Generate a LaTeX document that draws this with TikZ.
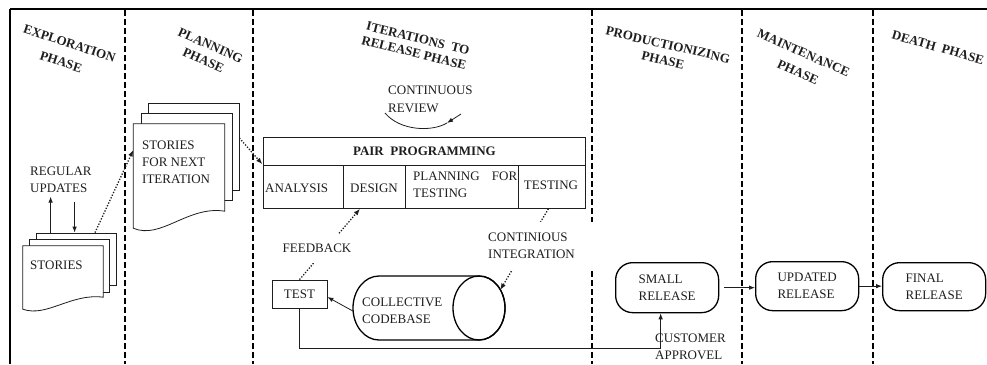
\documentclass[tikz,border=0pt]{standalone}
\usepackage{fontspec}
\setmainfont{Liberation Serif}
\usetikzlibrary{calc,arrows.meta}

\definecolor{ink}{RGB}{30,30,30}

\tikzset{
  x=1pt, y=-1pt,
  every node/.style={font=\fontsize{13}{17}\selectfont, text=ink, inner sep=0pt},
  phase/.style={font=\bfseries\fontsize{13}{15}\selectfont, anchor=center},
  divider/.style={draw=black, line width=1.5pt, dash pattern=on 6pt off 3pt},
  conn/.style={draw=ink, line width=0.8pt},
  tip/.style={-{Latex[length=6pt,width=4.5pt]}},
  dotconn/.style={draw=ink, line width=1.3pt, dash pattern=on 1.3pt off 1.6pt,
    -{Latex[length=6.5pt,width=5pt]}},
  page/.style={draw=ink, line width=0.8pt, fill=white},
  pagenode/.style={minimum width=#1, draw=none},
  cell/.style={draw=ink, line width=0.8pt, anchor=north west},
  release/.style={draw=black, line width=1.3pt, rounded corners=17pt,
    anchor=north west, minimum width=103pt, align=left},
  txt/.style={align=left, anchor=west},
  gapbox/.style={fill=white},
}

% document outline with a wavy lower edge, drawn round a named node
\newcommand\docoutline[2]{%
  \draw[page] (#1.north west) -- (#1.north east) -- (#1.south east)
    .. controls ($(#1.south west)!0.6!(#1.south east)+(0,-0.35*#2)$)
           and ($(#1.south west)!0.3!(#1.south east)+(0,1.7*#2)$)
    .. ($(#1.south west)+(0,#2)$) -- cycle;}

\begin{document}
\begin{tikzpicture}
\useasboundingbox (0,0) rectangle (987,364);

% frame and phase dividers
\draw[black, line width=2pt] (10,9) -- (987,9);
\draw[black, line width=1.5pt] (10,9) -- (10,364);
\foreach \x in {125,253,592,742,873}
  \draw[divider] (\x,10) -- (\x,364);

% phase titles
\node[phase, rotate=-18] (ph1a) at (69.5,43.5) {EXPLORATION};
\node[phase, rotate=-18] (ph1b) at (61,62) {PHASE};
\node[phase, rotate=-24] (ph2a) at (210.5,45.5) {PLANNING};
\node[phase, rotate=-24] (ph2b) at (203.5,60) {PHASE};
\node[phase, rotate=-14] (ph3a) at (418,38.5) {ITERATIONS\ \ TO};
\node[phase, rotate=-14] (ph3b) at (414,53) {RELEASE PHASE};
\node[phase, rotate=-13] (ph4a) at (668,45) {PRODUCTIONIZING};
\node[phase, rotate=-13] (ph4b) at (663,60) {PHASE};
\node[phase, rotate=-24] (ph5a) at (803.5,53) {MAINTENANCE};
\node[phase, rotate=-24] (ph5b) at (798,72) {PHASE};
\node[phase, rotate=-16] (ph6) at (938,47.5) {DEATH\ \ PHASE};

% exploration: stack of stories
\node[page, minimum width=80pt, minimum height=52pt] (sb) at (76,259) {};
\node[page, minimum width=80pt, minimum height=53pt] (sm) at (69.5,265.5) {};
\node[pagenode=80pt, minimum height=51pt] (sf) at (63,271.5) {};
\docoutline{sf}{12}
\node[txt] (stories) at (30,265) {STORIES};

\node[txt] (updates) at (30,179.5) {REGULAR\\UPDATES};
\draw[conn, tip] ([xshift=15pt]sb.north west) -- ++(0,-36);
\draw[conn, tip] ($(sb.north west)+(39,-31)$) -- ([xshift=39pt]sb.north west);

% planning: stories for next iteration
\node[page, minimum width=91pt, minimum height=87pt] (pb) at (193.5,146.5) {};
\node[page, minimum width=91pt, minimum height=87pt] (pm) at (186.5,157) {};
\node[pagenode=91pt, minimum height=87pt] (pf) at (179,167.5) {};
\docoutline{pf}{17}
\node[txt] (nextit) at (142,162.5) {STORIES\\FOR NEXT\\ITERATION};

% pair programming table
\node[cell, minimum width=322pt, minimum height=28pt,
      font=\bfseries\fontsize{13}{17}\selectfont] (pp) at (263,137) {PAIR\ \ PROGRAMMING};
\node[cell, minimum width=80pt, minimum height=43pt] (analysis) at (263,165) {};
\node[cell, minimum width=62pt, minimum height=43pt] (design) at (343,165) {};
\node[cell, minimum width=113pt, minimum height=43pt] (plantest) at (405,165) {};
\node[cell, minimum width=67pt, minimum height=43pt] (testing) at (518,165) {};
\node[txt] (analysistxt) at (265,188) {ANALYSIS};
\node (designtxt) at (374,188) {DESIGN};
\node[txt, text width=104pt] (plantesttxt) at (413,185) {PLANNING\hfill FOR\\TESTING};
\node (testingtxt) at (551,185) {TESTING};

% continuous review
\node[txt, font=\fontsize{13}{18}\selectfont] (review) at (388,99) {CONTINUOUS\\REVIEW};
\draw[conn] (385,113) .. controls (400,131) and (432,132) .. (447,123);
\draw[conn, tip] (461,114) -- (447,123);

% dotted hand-overs
\draw[dotconn] ([xshift=19pt]sb.north) -- ([yshift=17.5pt]pf.west);
\draw[dotconn, shorten >=1pt] ([yshift=8.5pt]pb.east) -- (analysis.north west);

% test and collective codebase
\node[draw=ink, line width=0.8pt, minimum width=55pt, minimum height=28pt] (test) at (299.5,294) {TEST};
\node[minimum width=152pt, minimum height=64pt] (codebase) at (429,308) {};
\draw[black, line width=1.3pt, fill=white]
  (379,276) -- (479,276) arc[start angle=90, end angle=-90, x radius=26pt, y radius=32pt]
  -- (379,340) arc[start angle=270, end angle=90, x radius=26pt, y radius=32pt] -- cycle;
\draw[black, line width=1.3pt] (479,308) ellipse[x radius=26pt, y radius=32pt];
\node[txt] (codebasetxt) at (362,310.5) {COLLECTIVE\\CODEBASE};
\draw[conn, tip] ([yshift=-3pt]codebase.west) -- ([yshift=-3pt]test.east);

\draw[dotconn] (test.north) -- ([xshift=17pt]design.south west);
\node[gapbox, inner xsep=3pt, inner ysep=10pt] (feedback) at (317,248.5) {FEEDBACK};

\draw[dotconn] ([xshift=-3.5pt]testing.south) -- ($(codebase.east)+(-5,-18)$);
\node[gapbox, anchor=north west, minimum width=112pt, minimum height=48pt,
      text width=108pt, inner xsep=2pt, align=left] (ci) at (486,222) {CONTINIOUS\\INTEGRATION};

% releases
\node[release, minimum height=50pt] (small) at (615,262) {SMALL\\RELEASE};
\node[release, minimum height=49pt] (updated) at (755,261) {UPDATED\\RELEASE};
\node[release, minimum height=48pt] (final) at (882,262) {FINAL\\RELEASE};

\draw[conn, tip] ([xshift=5pt]small.east) -- (small.east -| updated.west);
\draw[conn, tip] (updated.east) -- (updated.east -| final.west);

\draw[conn, tip] (test.south) -- ++(0,40) -| ([xshift=-6.5pt]small.south);
\node[txt] (approval) at (655,347) {CUSTOMER\\APPROVEL};

\end{tikzpicture}
\end{document}
